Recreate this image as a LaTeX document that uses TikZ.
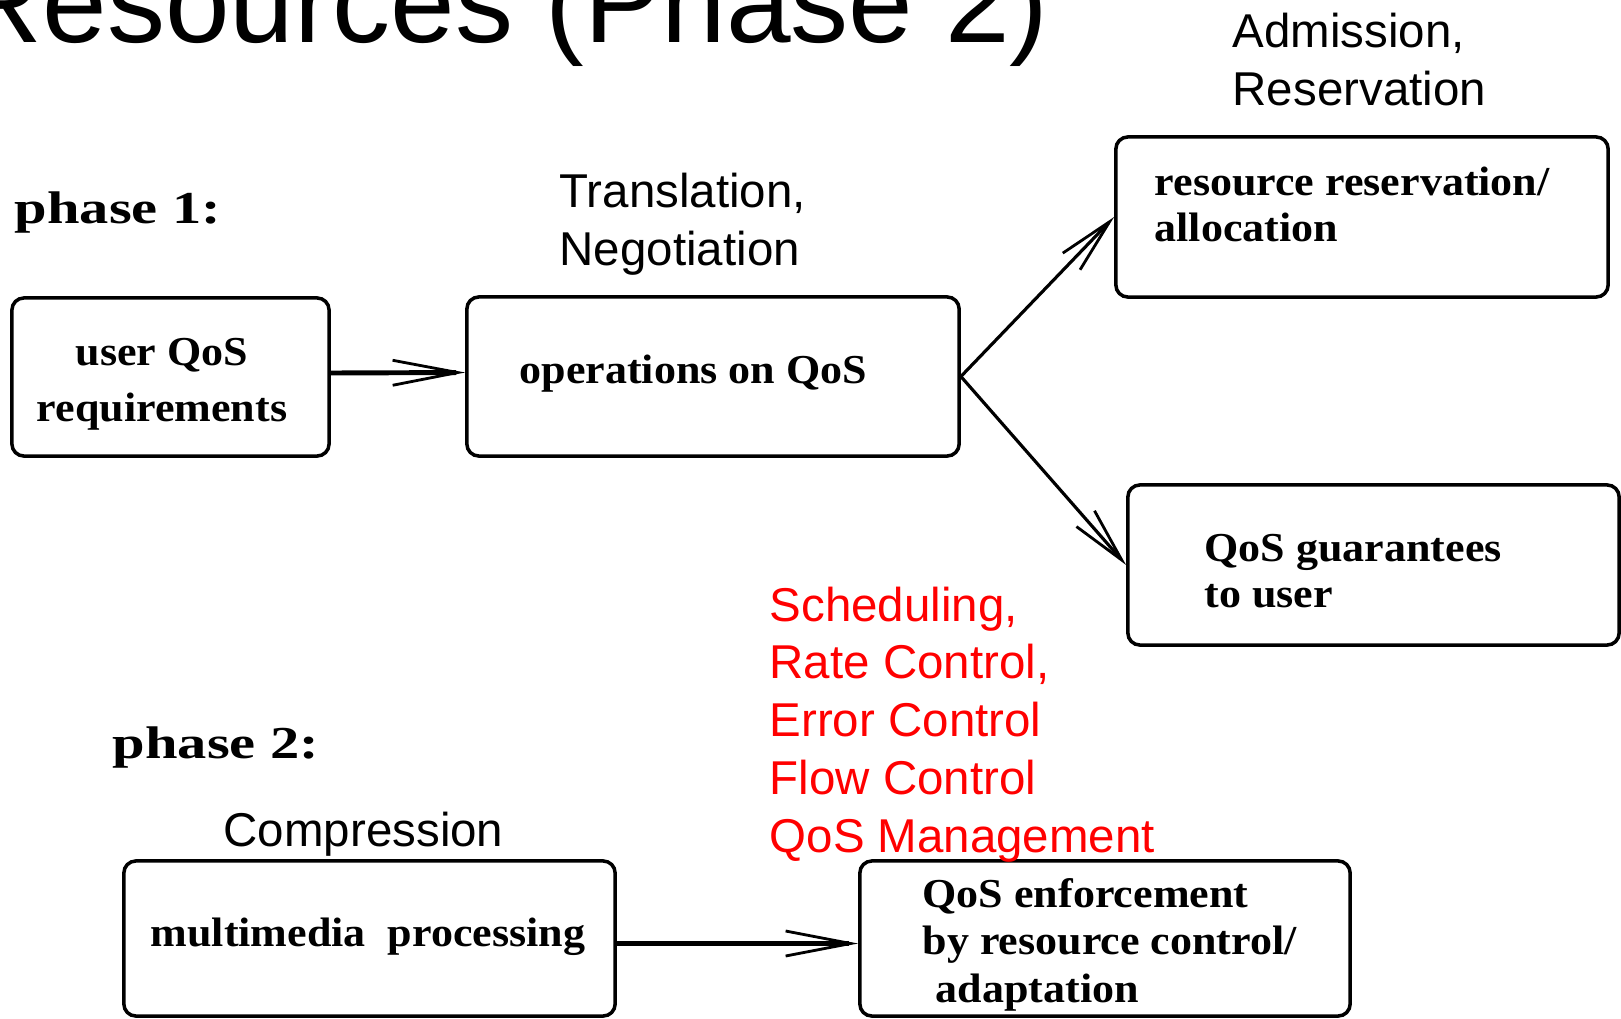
\documentclass[tikz,border=0pt]{standalone}
\usepackage{fontspec}
\usepackage{xcolor}
\usetikzlibrary{arrows.meta}
\newfontfamily\arialfont{Liberation Sans}
\newfontfamily\boxfont{Liberation Serif}[FakeStretch=1.07]
\newfontfamily\phasefont{Liberation Serif}[FakeStretch=1.28]

\begin{document}
\begin{tikzpicture}[x=0.01cm, y=-0.01cm,
	qbox/.style={draw, line width=1pt, rounded corners=1.2mm, inner sep=0pt},
	qtext/.style={inner sep=0pt, anchor=base west, align=left, font=\boxfont\bfseries\fontsize{11.7}{12.8}\selectfont},
	slabel/.style={inner sep=0pt, anchor=base west, align=left, font=\arialfont\fontsize{13.5}{16.4}\selectfont},
	plabel/.style={inner sep=0pt, anchor=base west, font=\phasefont\bfseries\fontsize{13}{15}\selectfont},
	bigtip/.style={-{Straight Barb[length=6.5mm, width=2.5mm, line width=0.8pt]}},
	smalltip/.style={-{Straight Barb[length=5.5mm, width=2.4mm, line width=0.8pt]}}]
	\clip (0, 0) rectangle (1621, 1018);
		\node[inner sep=0pt, anchor=base west, font=\arialfont\fontsize{33}{38}\selectfont] (title) at (-42, 42) {Resources (Phase 2)};
		\node[plabel] (phaseone) at (14, 223) {phase 1:};
		\node[plabel] (phasetwo) at (112, 758) {phase 2:};
		\node[qbox, minimum width=3.17cm, minimum height=1.58cm] (user) at (170.5, 377) {};
		\node[qbox, minimum width=4.92cm, minimum height=1.59cm] (ops) at (713, 376.5) {};
		\node[qbox, minimum width=4.92cm, minimum height=1.60cm] (resv) at (1362, 217) {};
		\node[qbox, minimum width=4.91cm, minimum height=1.60cm] (guar) at (1373.5, 565) {};
		\node[qbox, minimum width=4.91cm, minimum height=1.55cm] (mmproc) at (369.5, 938.5) {};
		\node[qbox, minimum width=4.90cm, minimum height=1.55cm] (enforce) at (1105, 938.5) {};
		\node[qtext, anchor=base, align=center] (usertext) at (162, 421) {user QoS\\[3.1pt]requirements};
		\node[qtext] (opstext) at (519, 383) {operations on QoS};
		\node[qtext] (resvtext) at (1154, 241) {resource reservation/\\allocation};
		\node[qtext] (guartext) at (1204, 607) {QoS guarantees\\to user};
		\node[qtext] (mmtext) at (150, 946) {multimedia\ \ processing};
		\node[qtext] (enftext) at (922, 1002) {QoS enforcement\\[0.6pt]by resource control/\\[0.6pt]\hspace{0.13cm}adaptation};
		\node[slabel] (admit) at (1232, 105.5) {Admission,\\Reservation};
		\node[slabel] (transl) at (559, 265) {Translation,\\Negotiation};
		\node[slabel] (compr) at (223, 846) {Compression};
		\node[slabel, red] (sched) at (769, 852) {Scheduling,\\Rate Control,\\Error Control\\Flow Control\\QoS Management};
		\draw[bigtip, line width=1.4pt] ([yshift=0.04cm]user.east) -- ([yshift=0.04cm]ops.west);
		\draw[smalltip, line width=0.9pt] (ops.east) -- (resv.west);
		\draw[smalltip, line width=0.9pt] (ops.east) -- (guar.west);
		\draw[bigtip, line width=1.3pt] ([yshift=-0.05cm]mmproc.east) -- ([yshift=-0.05cm]enforce.west);
	\end{tikzpicture}
\end{document}
